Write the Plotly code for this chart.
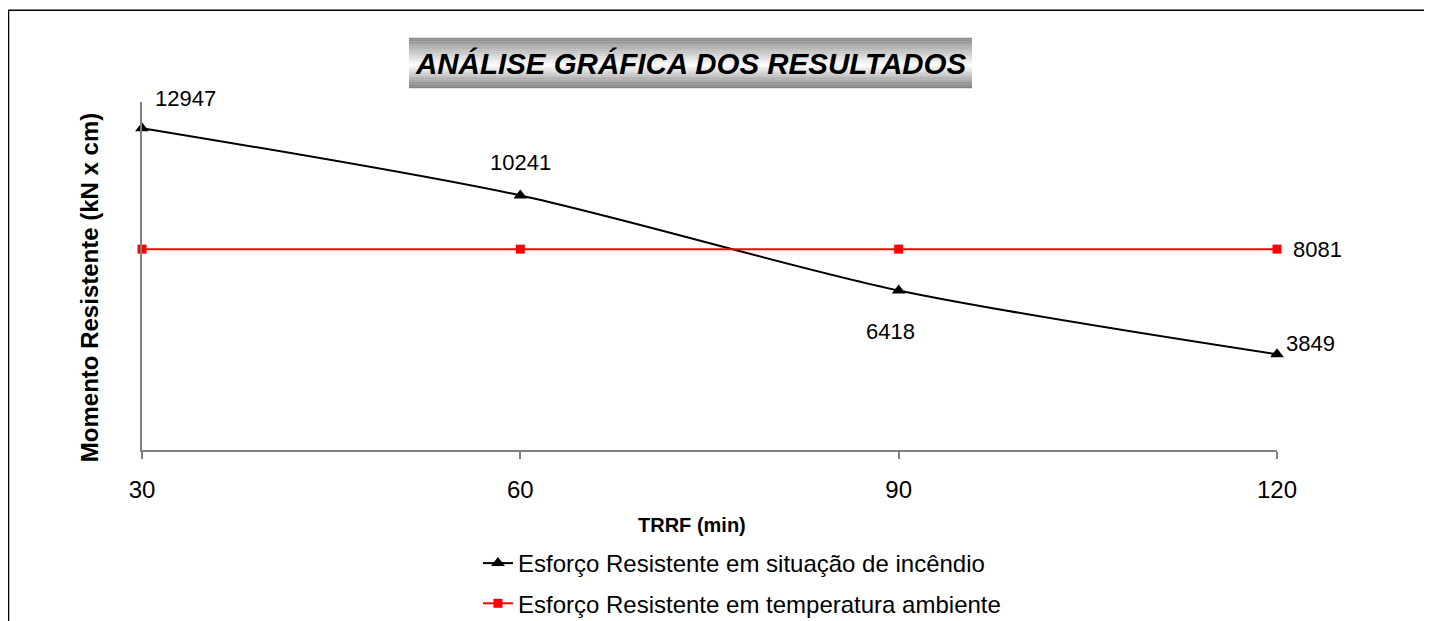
"""
Análise gráfica: momento resistente x TRRF.
"""

import plotly.graph_objects as go

# data
trrf = [30, 60, 90, 120]
incendio = [12947, 10241, 6418, 3849]
ambiente = [8081, 8081, 8081, 8081]

# label offsets (px) for each point of the fire curve
incendio_shift = [(43, 30), (0, 33), (-8, -41), (33, 11)]

FONT = 'Arial, Liberation Sans, sans-serif'

fig = go.Figure()

fig.add_trace(go.Scatter(
    x=trrf,
    y=incendio,
    mode='lines+markers',
    name='Esforço Resistente em situação de incêndio',
    line=dict(color='black', width=2, shape='spline', smoothing=0.8),
    marker=dict(symbol='triangle-up', size=12, color='black'),
    cliponaxis=False,
    legendgroup='a',
))

fig.add_trace(go.Scatter(
    x=trrf,
    y=ambiente,
    mode='lines+markers',
    name='Esforço Resistente em temperatura ambiente',
    line=dict(color='#ff0000', width=2),
    marker=dict(symbol='square', size=9, color='#ff0000'),
    cliponaxis=False,
    legendgroup='b',
))

# data labels
annotations = []
for xv, yv, (dx, dy) in zip(trrf, incendio, incendio_shift):
    annotations.append(dict(
        x=xv, y=yv, text=str(yv), showarrow=False,
        xshift=dx, yshift=dy, xanchor='center', yanchor='middle',
        font=dict(size=22, family=FONT, color='black'),
    ))
annotations.append(dict(
    x=trrf[-1], y=ambiente[-1], text=str(ambiente[-1]), showarrow=False,
    xshift=40, yshift=0, xanchor='center', yanchor='middle',
    font=dict(size=22, family=FONT, color='black'),
))

# axis titles (placed by hand, like the excel chart)
annotations.append(dict(
    text='<b>Momento Resistente (kN x cm)</b>',
    xref='paper', yref='paper', x=-0.0467, y=0.468,
    xanchor='center', yanchor='middle', textangle=-90, showarrow=False,
    font=dict(size=24, family=FONT, color='black'),
))
annotations.append(dict(
    text='<b>TRRF (min)</b>',
    xref='paper', yref='paper', x=0.4846, y=-0.2155,
    xanchor='center', yanchor='middle', showarrow=False,
    font=dict(size=20, family=FONT, color='black'),
))

# outer chart frame
shapes = [dict(
    type='rect', xref='paper', yref='paper',
    x0=-0.1176, x1=1.131, y0=-0.52, y1=1.264,
    line=dict(color='black', width=1.5), fillcolor='rgba(0,0,0,0)',
    layer='below',
)]

# gradient box behind the title (stacked stripes)
box_x0, box_x1 = 0.2352, 0.7313
box_top, box_bot = 1.1839, 1.0402
n = 30
for i in range(n):
    t = (i + 0.5) / n
    if t < 0.55:
        g = 135 + (255 - 135) * (t / 0.55)
    else:
        g = 255 - (255 - 125) * ((t - 0.55) / 0.45)
    g = int(g)
    y1 = box_top - (box_top - box_bot) * i / n
    y0 = box_top - (box_top - box_bot) * (i + 1) / n
    shapes.append(dict(
        type='rect', xref='paper', yref='paper',
        x0=box_x0, x1=box_x1, y0=y0 - 0.0005, y1=y1 + 0.0005,
        line=dict(width=0), fillcolor=f'rgb({g},{g},{g})',
        layer='below',
    ))

annotations.append(dict(
    text='<b><i>ANÁLISE GRÁFICA DOS RESULTADOS</i></b>',
    xref='paper', yref='paper',
    x=(box_x0 + box_x1) / 2, y=(box_top + box_bot) / 2,
    xanchor='center', yanchor='middle',
    showarrow=False,
    font=dict(size=29.5, family=FONT, color='black'),
))

# page body keeps an 8px margin, so the figure is 8px smaller than the window
fig.update_layout(
    width=1424,
    height=613,
    margin=dict(l=134, r=155, t=94, b=171),
    paper_bgcolor='white',
    plot_bgcolor='white',
    font=dict(family=FONT, color='black'),
    showlegend=True,
    legend=dict(
        x=0.296, xanchor='left',
        yref='container', y=0.1305, yanchor='top',
        font=dict(size=24, family=FONT),
        tracegroupgap=6,
        bgcolor='rgba(0,0,0,0)',
    ),
    shapes=shapes,
    annotations=annotations,
    xaxis=dict(
        range=[30, 120],
        tickvals=trrf,
        ticktext=[str(v) for v in trrf],
        ticks='outside', ticklen=7, tickcolor='#808080', tickwidth=2,
        ticklabelstandoff=10,
        showline=True, linecolor='#808080', linewidth=2,
        showgrid=False, zeroline=False,
        tickfont=dict(size=24),
    ),
    yaxis=dict(
        range=[0, 14000],
        showticklabels=False,
        ticks='',
        showline=True, linecolor='#808080', linewidth=2,
        showgrid=False, zeroline=False,
    ),
)

fig.write_html("out.html")
